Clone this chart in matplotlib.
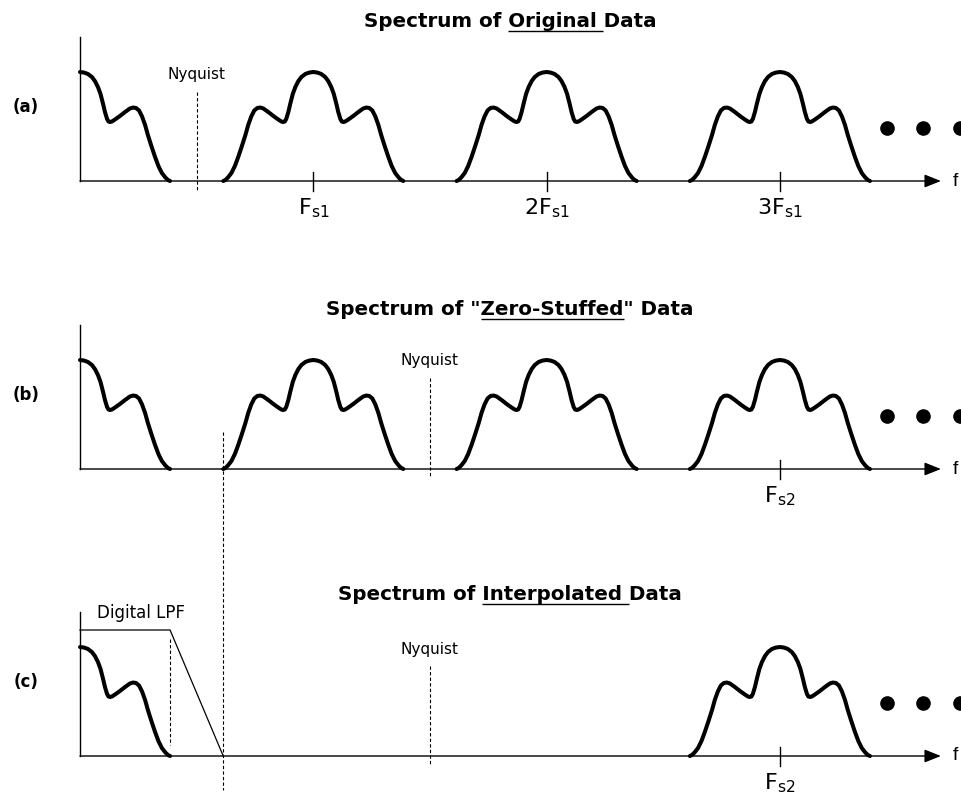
import matplotlib
matplotlib.use("Agg")
import matplotlib.pyplot as plt
import numpy as np

plt.rcParams['mathtext.fontset'] = 'custom'
plt.rcParams['mathtext.rm'] = 'Liberation Sans Narrow'

# frequency axis in units of Fs1, magnitude in units of the lobe peak
FS1 = 1.0
FS2 = 3.0

# right half of one spectral lobe (offset from centre, magnitude)
LOBE_DX = [0.000, 0.017, 0.034, 0.051, 0.064, 0.077, 0.088, 0.099, 0.107, 0.116,
           0.122, 0.129, 0.137, 0.150, 0.171, 0.193, 0.214, 0.227, 0.240, 0.253,
           0.266, 0.279, 0.291, 0.306, 0.321, 0.336, 0.351, 0.366, 0.377, 0.386]
LOBE_MAG = [1.000, 0.995, 0.982, 0.954, 0.917, 0.862, 0.798, 0.706, 0.633, 0.569,
            0.546, 0.541, 0.546, 0.564, 0.596, 0.633, 0.665, 0.674, 0.670, 0.647,
            0.592, 0.514, 0.422, 0.321, 0.225, 0.138, 0.073, 0.032, 0.009, 0.000]

CENTERS_A = [1, 2, 3]
CENTERS_B = [1, 2, 3]
CENTERS_C = [3]

TICKS_A = [1, 2, 3]
TICK_LABELS_A = [r'$\mathrm{F_{s1}}$', r'$\mathrm{2F_{s1}}$', r'$\mathrm{3F_{s1}}$']
TICKS_BC = [3]
TICK_LABELS_BC = [r'$\mathrm{F_{s2}}$']

NYQ_A = 0.5
NYQ_BC = 1.5

LPF_X = [0.0, 0.386, 0.614]
LPF_Y = [1.156, 1.156, 0.0]

DOTS_X = [3.46, 3.615, 3.77]
DOTS_Y = 0.49

TITLES = [
    [("Spectrum of ", False), ("Original ", True), ("Data", False)],
    [('Spectrum of "', False), ("Zero-Stuffed", True), ('" Data', False)],
    [("Spectrum of ", False), ("Interpolated ", True), ("Data", False)],
]
PANEL_LABELS = ["(a)", "(b)", "(c)"]

W, H = 961, 799
X0, XS, YS = 80.0, 233.3, 109.0

fig = plt.figure(figsize=(W / 100, H / 100), dpi=100)
renderer = fig.canvas.get_renderer()


def make_axes(top, bottom, base):
    ax = fig.add_axes([0, 1 - bottom / H, 1, (bottom - top) / H])
    ax.set_xlim(-X0 / XS, (W - X0) / XS)
    ax.set_ylim(-(bottom - base) / YS, (base - top) / YS)
    ax.axis('off')
    return ax


def text_width(ax, s, **kw):
    t = ax.text(0, 0, s + '|', **kw)
    w1 = t.get_window_extent(renderer).width
    t.remove()
    t = ax.text(0, 0, '|', **kw)
    w2 = t.get_window_extent(renderer).width
    t.remove()
    return w1 - w2


def draw_title(ax, parts, xc, y):
    kw = dict(fontsize=14.3, fontweight='bold', family='DejaVu Sans')
    full = ''.join(p for p, _ in parts)
    t = ax.text(xc, y, full, ha='center', va='baseline', **kw)
    bb = t.get_window_extent(renderer)
    left = bb.x0
    inv = ax.transData.inverted()
    pos = 0
    for s, ul in parts:
        if ul:
            x_a = left + text_width(ax, full[:pos], **kw)
            x_b = left + text_width(ax, full[:pos + len(s)], **kw)
            (xa, _), (xb, _) = inv.transform([(x_a, 0), (x_b, 0)])
            ax.plot([xa, xb], [y - 3.5 / YS, y - 3.5 / YS], color='black', lw=1.0,
                    solid_capstyle='butt')
        pos += len(s)


def lobe(ax, c, half=False):
    dx = np.array(LOBE_DX)
    mag = np.array(LOBE_MAG)
    if half:
        x, y = c + dx, mag
    else:
        x = np.concatenate([c - dx[::-1], c + dx[1:]])
        y = np.concatenate([mag[::-1], mag[1:]])
    ax.plot(x, y, color='black', lw=2.9, solid_capstyle='round',
            solid_joinstyle='round')


def frame(ax, label):
    ax.plot([0, 0], [0, 1.32], color='black', lw=1.0)
    ax.annotate('', xy=(3.69, 0), xytext=(0, 0),
                arrowprops=dict(arrowstyle='-|>,head_length=0.5,head_width=0.2',
                                mutation_scale=20, lw=1.0, color='black',
                                shrinkA=0, shrinkB=0))
    ax.text(3.74, 0.0, 'f', fontsize=14, family='Liberation Sans', ha='left', va='center')
    ax.text((26 - X0) / XS, 0.68, label, fontsize=12, fontweight='bold',
            family='DejaVu Sans', ha='center', va='center')
    ax.plot(DOTS_X, [DOTS_Y] * len(DOTS_X), 'o', color='black', ms=9.5,
            clip_on=False)


def ticks(ax, xs, labels):
    for x, lab in zip(xs, labels):
        ax.plot([x, x], [0.083, -0.092], color='black', lw=1.0)
        ax.text(x, -0.25, lab, fontsize=16, ha='center', va='center')


def nyquist(ax, x, y0, y1, ty):
    ax.plot([x, x], [y0, y1], color='black', lw=0.8, dashes=(3, 2))
    ax.text(x, ty, 'Nyquist', fontsize=11, family='DejaVu Sans', ha='center', va='center')


title_x = (510 - X0) / XS

# (a)
ax_a = make_axes(0, 250, 181)
frame(ax_a, PANEL_LABELS[0])
lobe(ax_a, 0, half=True)
for c in CENTERS_A:
    lobe(ax_a, c * FS1)
ticks(ax_a, TICKS_A, TICK_LABELS_A)
nyquist(ax_a, NYQ_A, 0.817, -0.092, 0.98)
draw_title(ax_a, TITLES[0], title_x, 1.41)

# (b)
ax_b = make_axes(270, 540, 469)
frame(ax_b, PANEL_LABELS[1])
lobe(ax_b, 0, half=True)
for c in CENTERS_B:
    lobe(ax_b, c * FS1)
ticks(ax_b, TICKS_BC, TICK_LABELS_BC)
nyquist(ax_b, NYQ_BC, 0.835, -0.083, 1.0)
draw_title(ax_b, TITLES[1], title_x, 1.41)
ax_b.plot([LPF_X[2], LPF_X[2]], [0.34, -2.945], color='black', lw=0.8,
          dashes=(3, 2), clip_on=False)

# (c)
ax_c = make_axes(560, 799, 756)
frame(ax_c, PANEL_LABELS[2])
lobe(ax_c, 0, half=True)
for c in CENTERS_C:
    lobe(ax_c, c * FS1)
ticks(ax_c, TICKS_BC, TICK_LABELS_BC)
nyquist(ax_c, NYQ_BC, 0.826, -0.083, 0.98)
draw_title(ax_c, TITLES[2], title_x, 1.43)
ax_c.plot(LPF_X, LPF_Y, color='black', lw=0.9)
ax_c.plot([LPF_X[1], LPF_X[1]], [1.07, 0.1], color='black', lw=0.8, dashes=(3, 2))
ax_c.text(0.26, 1.31, 'Digital LPF', fontsize=12, family='DejaVu Sans',
          ha='center', va='center')

fig.savefig('out.png', dpi=100)
